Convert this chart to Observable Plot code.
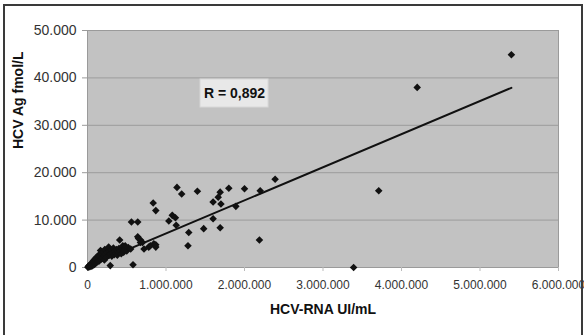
<!DOCTYPE html>
<html>
<head>
<meta charset="utf-8">
<script src="https://cdn.jsdelivr.net/npm/d3@7"></script>
<script src="https://cdn.jsdelivr.net/npm/@observablehq/plot@0.6"></script>
<style>
  html, body { margin: 0; padding: 0; background: #fff; }
  #wrap { position: relative; width: 584px; height: 335px; overflow: hidden; }
  #border { position: absolute; left: 3px; top: 4px; width: 580px; height: 340px;
            border: 2px solid #3a3a3a; box-sizing: border-box; pointer-events: none; }
</style>
</head>
<body>
<div id="wrap"><div id="chart"></div><div id="border"></div></div>
<script>
// HCV-RNA (millions UI/mL) and HCV Ag (thousands fmol/L)
const rnaMillions = [
  0.005,0.01,0.015,0.02,0.025,0.03,0.035,0.04,0.045,0.05,0.055,0.06,0.065,0.07,0.075,0.08,0.085,0.09,0.095,0.10,
  0.105,0.11,0.12,0.125,0.13,0.14,0.145,0.15,0.16,0.166,0.17,0.18,0.19,0.20,0.21,0.215,0.22,0.23,0.24,0.25,
  0.26,0.27,0.275,0.28,0.29,0.30,0.29,0.31,0.32,0.33,0.34,0.35,0.36,0.37,0.38,0.39,0.40,0.41,0.42,0.43,
  0.44,0.45,0.46,0.47,0.48,0.50,0.52,0.55,0.56,0.58,0.64,0.64,0.65,0.675,0.675,0.70,0.72,0.78,0.80,0.845,
  0.87,0.87,0.837,0.87,1.036,1.08,1.12,1.13,1.14,1.20,1.29,1.28,1.40,1.48,1.60,1.60,1.665,1.69,1.70,1.69,
  1.80,1.89,2.00,2.20,2.19,2.39,3.39,3.71,4.20,5.40
];
const agThousands = [
  0.05,0.2,0.1,0.4,0.3,0.15,0.6,0.35,0.8,0.5,0.25,1.0,0.7,1.3,0.9,0.55,1.6,1.1,0.8,1.9,
  1.4,1.0,2.2,1.7,1.2,2.6,1.9,1.4,2.3,3.6,1.7,2.9,2.0,3.3,2.4,1.6,3.8,2.8,2.1,3.2,
  4.0,4.3,2.6,3.5,2.9,3.7,0.4,2.4,3.1,4.1,2.7,3.4,3.0,3.8,2.6,3.3,4.0,5.8,3.5,2.9,
  3.9,4.6,3.2,3.7,4.6,3.5,4.2,3.9,9.6,0.6,9.6,6.5,6.1,5.8,5.3,5.3,3.9,4.3,4.6,5.0,
  4.8,4.3,13.6,12.0,9.8,11.0,10.5,8.9,16.9,15.5,7.4,4.6,16.1,8.2,13.8,10.3,14.8,15.9,13.4,8.4,
  16.7,12.9,16.6,16.2,5.8,18.6,0.0,16.2,38.0,44.9
];
// regression line end points
const fitX = [0, 5400000];
const fitY = [200, 37900];
// tick values
const xTicks = [0, 1000000, 2000000, 3000000, 4000000, 5000000, 6000000];
const yTicks = [0, 10000, 20000, 30000, 40000, 50000];
// annotation
const rLabel = ["R = 0,892"];
const rLabelX = [1873000];
const rLabelY = [36700];
const rBoxX = [1440000, 2306000];
const rBoxY = [33750, 39660];

const points = rnaMillions.map((x, i) => ({x: x * 1e6, y: agThousands[i] * 1000}));
const fit = fitX.map((x, i) => ({x, y: fitY[i]}));
const fmt = d3.formatLocale({decimal: ",", thousands: ".", grouping: [3], currency: ["", ""]}).format(",.0f");
const font = "'Liberation Sans', Arial, sans-serif";

const chart = Plot.plot({
  width: 584, height: 335,
  marginLeft: 87, marginRight: 26, marginTop: 30, marginBottom: 68,
  style: {fontFamily: font, background: "transparent", overflow: "visible"},
  x: {domain: [0, 6000000]},
  y: {domain: [0, 50000]},
  marks: [
    Plot.frame({fill: "#c2c2c2", stroke: "none"}),
    Plot.gridY(yTicks, {stroke: "#9c9c9c", strokeOpacity: 1, strokeWidth: 1}),
    Plot.frame({stroke: "#9a9a9a", strokeWidth: 1}),
    Plot.axisY(yTicks, {tickFormat: fmt, tickSize: 5, tickPadding: 6, fontSize: 14, fill: "#333", stroke: "#9a9a9a", label: null}),
    Plot.axisX(xTicks, {tickFormat: fmt, tickSize: 4, tickPadding: 9, fontSize: 12, fill: "#333", stroke: "#bbbbbb", label: null}),
    Plot.rect([0], {x1: () => rBoxX[0], x2: () => rBoxX[1], y1: () => rBoxY[0], y2: () => rBoxY[1], fill: "#e8e8e8", stroke: "#d8d8d8"}),
    Plot.text(rLabel, {x: (d, i) => rLabelX[i], y: (d, i) => rLabelY[i], text: d => d, fontSize: 14, fontWeight: "bold", fill: "#111"}),
    Plot.line(fit, {x: "x", y: "y", stroke: "#111", strokeWidth: 2}),
    Plot.dot(points, {x: "x", y: "y", symbol: "diamond2", r: 3.4, fill: "#111", stroke: "none"}),
    Plot.text(["HCV-RNA UI/mL"], {frameAnchor: "bottom", dy: 46, fontSize: 14, fontWeight: "bold", fill: "#111"}),
    Plot.text(["HCV Ag fmol/L"], {frameAnchor: "left", dx: -69, rotate: -90, fontSize: 14, fontWeight: "bold", fill: "#111"})
  ]
});
document.getElementById("chart").appendChild(chart);
</script>
</body>
</html>
